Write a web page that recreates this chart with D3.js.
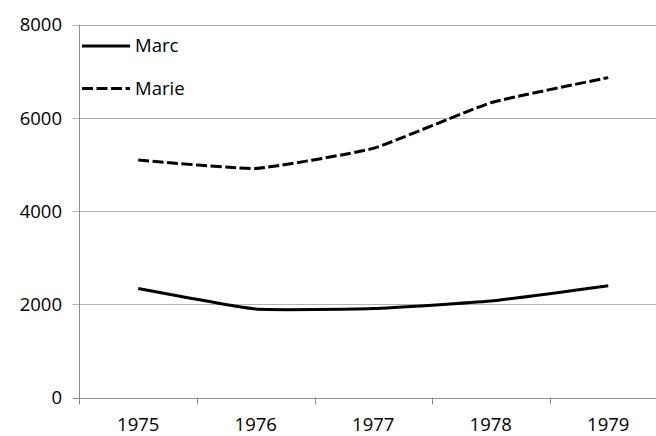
<!DOCTYPE html>
<html>
<head>
<meta charset="utf-8">
<script src="https://cdn.jsdelivr.net/npm/d3@7"></script>
<style>
  html, body { margin: 0; padding: 0; background: #fff; }
  svg text { font-family: "Open Sans", sans-serif; font-size: 18.5px; fill: #000; }
</style>
</head>
<body>
<div id="chart"></div>
<script>
  // data
  var years = ['1975', '1976', '1977', '1978', '1979'];
  var marc = [2340, 1900, 1910, 2070, 2400];
  var marie = [5100, 4920, 5350, 6330, 6870];
  var yTicks = [0, 2000, 4000, 6000, 8000];

  (function () {
    'use strict';
    var series = [
      { name: 'Marc', values: marc, dash: null },
      { name: 'Marie', values: marie, dash: '11,3.5' }
    ];

    var width = 656;
    var height = 436;
    var plotLeft = 79.5, plotTop = 25, plotBottom = 397.5;
    var plotRight = plotLeft + 5 * 117.5;

    var svg = d3.select('#chart')
        .append('svg')
        .attr('width', width)
        .attr('height', height);

    var x = d3.scaleBand().domain(years).range([plotLeft, plotRight]);
    var y = d3.scaleLinear().domain([0, 8000]).range([plotBottom, plotTop]);

    // gridlines + left tick marks
    svg.append('g').selectAll('line')
        .data(yTicks)
        .enter()
        .append('line')
        .attr('x1', plotLeft - 7)
        .attr('x2', width)
        .attr('y1', function(d) { return Math.round(y(d)) + 0.5; })
        .attr('y2', function(d) { return Math.round(y(d)) + 0.5; })
        .attr('stroke', function(d) { return d === 0 ? '#8c8c8c' : '#b3b3b3'; })
        .attr('stroke-width', 1);

    svg.append('g').selectAll('text')
        .data(yTicks)
        .enter()
        .append('text')
        .attr('x', 62)
        .attr('y', function(d) { return y(d); })
        .attr('dy', '0.35em')
        .attr('text-anchor', 'end')
        .text(function(d) { return d; });

    // vertical axis
    svg.append('line')
        .attr('x1', plotLeft).attr('x2', plotLeft)
        .attr('y1', plotTop).attr('y2', plotBottom + 7)
        .attr('stroke', '#8c8c8c');

    // x ticks between categories
    var xb = years.map(function(d) { return x(d); });
    svg.append('g').selectAll('line')
        .data(xb.slice(1))
        .enter()
        .append('line')
        .attr('x1', function(d) { return Math.round(d) + 0.5; })
        .attr('x2', function(d) { return Math.round(d) + 0.5; })
        .attr('y1', plotBottom)
        .attr('y2', plotBottom + 7)
        .attr('stroke', '#8c8c8c');

    svg.append('g').selectAll('text')
        .data(years)
        .enter()
        .append('text')
        .attr('x', function(d) { return x(d) + x.bandwidth() / 2; })
        .attr('y', 425)
        .attr('dy', '0.35em')
        .attr('text-anchor', 'middle')
        .text(function(d) { return d; });

    // only slightly rounded, like the reference
    var line = d3.line()
        .x(function(d, i) { return x(years[i]) + x.bandwidth() / 2; })
        .y(function(d) { return y(d); })
        .curve(d3.curveCardinal.tension(0.6));

    svg.append('g').selectAll('path')
        .data(series)
        .enter()
        .append('path')
        .attr('d', function(s) { return line(s.values); })
        .attr('fill', 'none')
        .attr('stroke', '#000')
        .attr('stroke-width', 3)
        .attr('stroke-dasharray', function(s) { return s.dash; });

    // legend
    var legend = svg.append('g').selectAll('g')
        .data(series)
        .enter()
        .append('g')
        .attr('transform', function(s, i) { return 'translate(82,' + (46 + i * 42.5) + ')'; });

    legend.append('line')
        .attr('x1', 0).attr('x2', 48)
        .attr('stroke', '#000')
        .attr('stroke-width', 3)
        .attr('stroke-dasharray', function(s) { return s.dash; });

    legend.append('text')
        .attr('x', 53)
        .attr('dy', '0.35em')
        .text(function(s) { return s.name; });
  })();
</script>
</body>
</html>
